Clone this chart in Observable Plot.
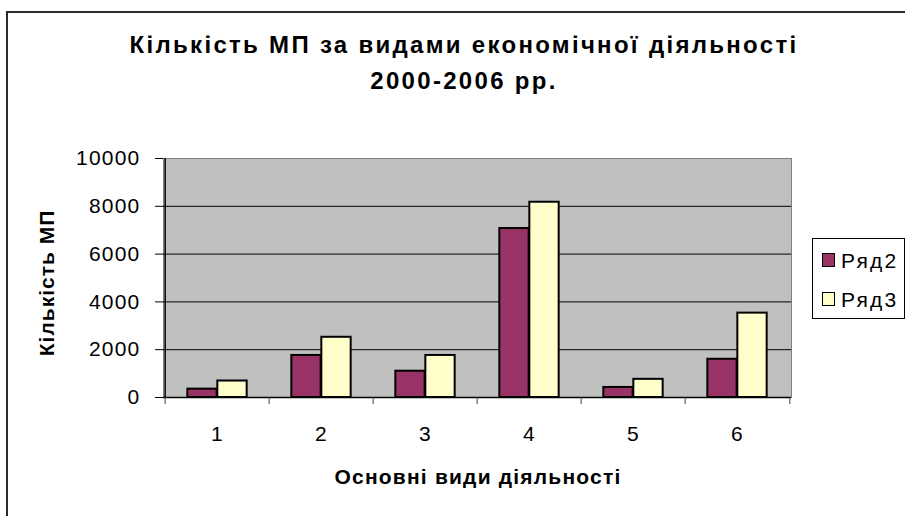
<!DOCTYPE html>
<html>
<head>
<meta charset="utf-8">
<script src="https://cdn.jsdelivr.net/npm/d3@7"></script>
<script src="https://cdn.jsdelivr.net/npm/@observablehq/plot@0.6"></script>
<style>
  html, body { margin: 0; padding: 0; background: #fff; overflow: hidden; }
  #wrap { position: relative; width: 905px; height: 516px; overflow: hidden; font-family: "Liberation Sans", Arial, sans-serif; }
  #chart { position: absolute; left: 0; top: 0; }
  #chart svg { font-family: "Liberation Sans", Arial, sans-serif !important; font-size: 21px !important; }
  #chart svg text { letter-spacing: 1.2px; }
  #frame { position: absolute; left: 6px; top: 11px; width: 1200px; height: 1200px; border: 2px solid #2b2b2b; box-sizing: border-box; }
  .title { position: absolute; left: 0; width: 928px; text-align: center; font-weight: bold; font-size: 24px; line-height: 28px; letter-spacing: 2.3px; color: #000; white-space: nowrap; }
  #xlabel { position: absolute; left: 0; width: 956px; top: 465px; text-align: center; font-weight: bold; font-size: 21px; line-height: 24px; letter-spacing: 1.2px; white-space: nowrap; }
  #ylabel { position: absolute; left: 47px; top: 283px; transform: translate(-50%, -50%) rotate(-90deg); font-weight: bold; font-size: 21px; line-height: 24px; letter-spacing: 1px; white-space: nowrap; }
  #legend { position: absolute; left: 812px; top: 238px; width: 93px; height: 81px; border: 1px solid #000; background: #fff; box-sizing: border-box; }
  .item { position: absolute; left: 9px; font-size: 21px; letter-spacing: 2.2px; line-height: 22px; white-space: nowrap; }
  .sw { display: inline-block; width: 11px; height: 12px; border: 1.5px solid #000; vertical-align: middle; margin-right: 6px; position: relative; top: -2px; }
</style>
</head>
<body>
<div id="wrap">
  <div id="frame"></div>
  <div id="chart"></div>
  <div class="title" style="top:31px">Кількість МП за видами економічної діяльності</div>
  <div class="title" style="top:67px">2000-2006 рр.</div>
  <div id="ylabel">Кількість МП</div>
  <div id="xlabel">Основні види діяльності</div>
  <div id="legend"></div>
</div>
<script>
const categories = ["1", "2", "3", "4", "5", "6"];
const seriesNames = ["Ряд2", "Ряд3"];
const ryad2 = [350, 1760, 1100, 7070, 420, 1600];
const ryad3 = [690, 2520, 1760, 8170, 760, 3530];
const yTicks = [0, 2000, 4000, 6000, 8000, 10000];
const colors = ["#993366", "#FFFFCC"];

const rows2 = categories.map((c, i) => ({cat: c, series: seriesNames[0], value: ryad2[i]}));
const rows3 = categories.map((c, i) => ({cat: c, series: seriesNames[1], value: ryad3[i]}));

const W = 905, H = 516;
const mL = 163, mR = 114, mT = 158, mB = 119;
const band = (W - mL - mR) / categories.length;
const barW = 30;
const half = band / 2;

const chart = Plot.plot({
  width: W,
  height: H,
  marginLeft: mL,
  marginRight: mR,
  marginTop: mT,
  marginBottom: mB,
  style: {fontFamily: "'Liberation Sans', Arial, sans-serif", fontSize: "21px", color: "#000", background: "transparent", overflow: "visible"},
  x: {domain: categories, padding: 0, label: null},
  y: {domain: [0, 10000], label: null},
  marks: [
    Plot.frame({fill: "#C0C0C0", stroke: "#808080"}),
    Plot.gridY({ticks: [2000, 4000, 6000, 8000], stroke: "#000", strokeOpacity: 1, strokeWidth: 1}),
    Plot.barY(rows2, {x: "cat", y: "value", fill: colors[0], stroke: "#000", strokeWidth: 2, insetLeft: half - barW, insetRight: half}),
    Plot.barY(rows3, {x: "cat", y: "value", fill: colors[1], stroke: "#000", strokeWidth: 2, insetLeft: half, insetRight: half - barW}),
    Plot.ruleY([0], {stroke: "#000", strokeWidth: 1.5}),
    Plot.ruleX([categories[0]], {x: d => d, dx: -half, stroke: "#000", strokeWidth: 1.5}),
    Plot.axisY({ticks: yTicks, tickSize: 8, tickPadding: 15, tickFormat: d => String(d), fontSize: 21, stroke: "#000", strokeOpacity: 1}),
    Plot.axisX({tickSize: 0, tickPadding: 29, fontSize: 21}),
    Plot.axisX({tickSize: 7, tickFormat: () => "", dx: -half, stroke: "#444", strokeOpacity: 1}),
    Plot.axisX({ticks: [categories[categories.length - 1]], tickSize: 7, tickFormat: () => "", dx: half, stroke: "#444", strokeOpacity: 1})
  ]
});
document.getElementById("chart").appendChild(chart);

const legend = document.getElementById("legend");
seriesNames.forEach((name, i) => {
  const it = document.createElement("div");
  it.className = "item";
  it.style.top = (11 + i * 39) + "px";
  const sw = document.createElement("span");
  sw.className = "sw";
  sw.style.background = colors[i];
  it.appendChild(sw);
  it.appendChild(document.createTextNode(name));
  legend.appendChild(it);
});
</script>
</body>
</html>
